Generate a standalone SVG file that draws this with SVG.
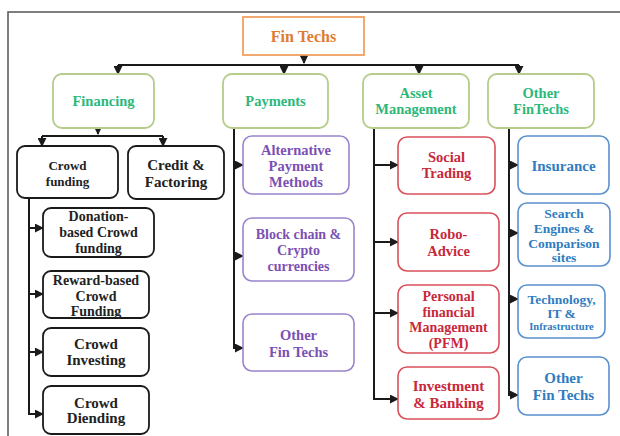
<svg xmlns="http://www.w3.org/2000/svg" width="620" height="436" viewBox="0 0 620 436">
<defs>
<marker id="ah" viewBox="0 0 10 10" refX="9" refY="5" markerWidth="4.5" markerHeight="4.5" orient="auto" markerUnits="strokeWidth">
<path d="M0,0 L10,5 L0,10 z" fill="#1a1a1a"/>
</marker>
<style>
text{font-family:"Liberation Serif","Times New Roman",serif;font-weight:bold;text-anchor:middle}
.root rect{fill:#fff;stroke:#F0A062;stroke-width:1.8}
.root text{fill:#E07A30;font-size:16px}
.l1 rect{fill:#fff;stroke:#B5CC8A;stroke-width:1.8}
.l1 text{fill:#2DB87A;font-size:14.5px}
.bk rect{fill:#fff;stroke:#1a1a1a;stroke-width:1.8}
.bk text{fill:#222;font-size:14px}
.pu rect{fill:#fff;stroke:#9B84CC;stroke-width:1.6}
.pu text{fill:#7B50B4;font-size:14.5px}
.rd rect{fill:#fff;stroke:#D9505A;stroke-width:1.6}
.rd text{fill:#C8283A;font-size:14.5px}
.bl rect{fill:#fff;stroke:#5B90CE;stroke-width:1.6}
.bl text{fill:#2F7CC0;font-size:14.5px}
.con path{fill:none;stroke:#1a1a1a;stroke-width:2}
.frame{fill:none;stroke:#555;stroke-width:1.5}
</style>
</defs>
<rect width="620" height="436" fill="#fff"/>
<path class="frame" d="M8,437 V12 H621"/>

<g class="con">
<path d="M304,55 V63" marker-end="url(#ah)"/>
<path d="M118,65 H519"/>
<path d="M118,65 V74" marker-end="url(#ah)"/>
<path d="M284,65 V74" marker-end="url(#ah)"/>
<path d="M419,65 V74" marker-end="url(#ah)"/>
<path d="M519,65 V74" marker-end="url(#ah)"/>
<path d="M98,128 V134" marker-end="url(#ah)"/>
<path d="M42,136 H163"/>
<path d="M42,136 V146" marker-end="url(#ah)"/>
<path d="M163,136 V146" marker-end="url(#ah)"/>
<path d="M29,198 V414 H43" marker-end="url(#ah)"/>
<path d="M29,228 H43" marker-end="url(#ah)"/>
<path d="M29,294 H43" marker-end="url(#ah)"/>
<path d="M29,352 H43" marker-end="url(#ah)"/>
<path d="M234,128 V348 H243" marker-end="url(#ah)"/>
<path d="M234,165 H243" marker-end="url(#ah)"/>
<path d="M234,256 H243" marker-end="url(#ah)"/>
<path d="M374,128 V399 H398" marker-end="url(#ah)"/>
<path d="M374,165 H398" marker-end="url(#ah)"/>
<path d="M374,242 H398" marker-end="url(#ah)"/>
<path d="M374,313 H398" marker-end="url(#ah)"/>
<path d="M509,128 V395 H518" marker-end="url(#ah)"/>
<path d="M509,165 H518" marker-end="url(#ah)"/>
<path d="M509,233 H518" marker-end="url(#ah)"/>
<path d="M509,299 H518" marker-end="url(#ah)"/>
</g>

<g id="fintechs" class="root"><rect x="243" y="17" width="121" height="38"/><text x="303.5" y="42">Fin Techs</text></g>

<g id="financing" class="l1"><rect x="53" y="74" width="101" height="54" rx="9"/><text x="103.5" y="106">Financing</text></g>
<g id="payments" class="l1"><rect x="223" y="74" width="105" height="54" rx="9"/><text x="275.5" y="106">Payments</text></g>
<g id="asset" class="l1"><rect x="363" y="74" width="106" height="54" rx="9"/><text x="416" y="98">Asset</text><text x="416" y="114">Management</text></g>
<g id="otherfintechs" class="l1"><rect x="488" y="74" width="106" height="54" rx="9"/><text x="541" y="98">Other</text><text x="541" y="114">FinTechs</text></g>

<g id="crowdfunding" class="bk"><rect x="17" y="146" width="101" height="52" rx="8"/><text x="67.5" y="170" style="font-size:13px">Crowd</text><text x="67.5" y="186" style="font-size:13px">funding</text></g>
<g id="credit" class="bk"><rect x="128" y="146" width="96" height="53" rx="8"/><text x="176" y="170" style="font-size:15px">Credit &amp;</text><text x="176" y="187" style="font-size:15px">Factoring</text></g>
<g id="donation" class="bk"><rect x="43" y="208" width="111" height="49" rx="8"/><text x="98.5" y="221">Donation-</text><text x="98.5" y="237">based Crowd</text><text x="98.5" y="253">funding</text></g>
<g id="reward" class="bk"><rect x="43" y="271" width="106" height="47" rx="8"/><text x="96" y="285">Reward-based</text><text x="96" y="301">Crowd</text><text x="96" y="316">Funding</text></g>
<g id="investing" class="bk"><rect x="43" y="328" width="106" height="48" rx="8"/><text x="96" y="349" style="font-size:15px">Crowd</text><text x="96" y="365" style="font-size:15px">Investing</text></g>
<g id="diending" class="bk"><rect x="43" y="386" width="106" height="48" rx="8"/><text x="96" y="408" style="font-size:15px">Crowd</text><text x="96" y="423" style="font-size:15px">Diending</text></g>

<g id="altpay" class="pu"><rect x="243" y="136" width="106" height="58" rx="9"/><text x="296" y="155">Alternative</text><text x="296" y="171">Payment</text><text x="296" y="187">Methods</text></g>
<g id="blockchain" class="pu"><rect x="243" y="218" width="111" height="63" rx="9"/><text x="298.5" y="239" style="font-size:14px">Block chain &amp;</text><text x="298.5" y="255" style="font-size:14px">Crypto</text><text x="298.5" y="271" style="font-size:14px">currencies</text></g>
<g id="otherpay" class="pu"><rect x="243" y="314" width="111" height="57" rx="9"/><text x="298.5" y="340">Other</text><text x="298.5" y="357">Fin Techs</text></g>

<g id="social" class="rd"><rect x="398" y="137" width="97" height="57" rx="9"/><text x="446.5" y="162">Social</text><text x="446.5" y="178">Trading</text></g>
<g id="robo" class="rd"><rect x="398" y="213" width="101" height="58" rx="9"/><text x="448.5" y="239">Robo-</text><text x="448.5" y="256">Advice</text></g>
<g id="pfm" class="rd"><rect x="398" y="285" width="101" height="68" rx="9"/><text x="448.5" y="301" style="font-size:14px">Personal</text><text x="448.5" y="317" style="font-size:14px">financial</text><text x="448.5" y="332" style="font-size:14px">Management</text><text x="448.5" y="348" style="font-size:14px">(PFM)</text></g>
<g id="investment" class="rd"><rect x="398" y="367" width="101" height="52" rx="9"/><text x="448.5" y="391" style="font-size:15px">Investment</text><text x="448.5" y="408" style="font-size:15px">&amp; Banking</text></g>

<g id="insurance" class="bl"><rect x="518" y="136" width="91" height="58" rx="9"/><text x="563.5" y="171" style="font-size:15px">Insurance</text></g>
<g id="search" class="bl"><rect x="518" y="203" width="92" height="63" rx="9"/><text x="564" y="218" style="font-size:13.5px">Search</text><text x="564" y="233" style="font-size:13.5px">Engines &amp;</text><text x="564" y="248" style="font-size:13.5px">Comparison</text><text x="564" y="262" style="font-size:13.5px">sites</text></g>
<g id="technology" class="bl"><rect x="518" y="285" width="87" height="53" rx="9"/><text x="561.5" y="304" style="font-size:13.5px">Technology,</text><text x="561.5" y="318" style="font-size:13.5px">IT &amp;</text><text x="561.5" y="330" style="font-size:10.5px">Infrastructure</text></g>
<g id="otherother" class="bl"><rect x="518" y="357" width="91" height="58" rx="9"/><text x="563.5" y="383" style="font-size:15px">Other</text><text x="563.5" y="400" style="font-size:15px">Fin Techs</text></g>
</svg>
